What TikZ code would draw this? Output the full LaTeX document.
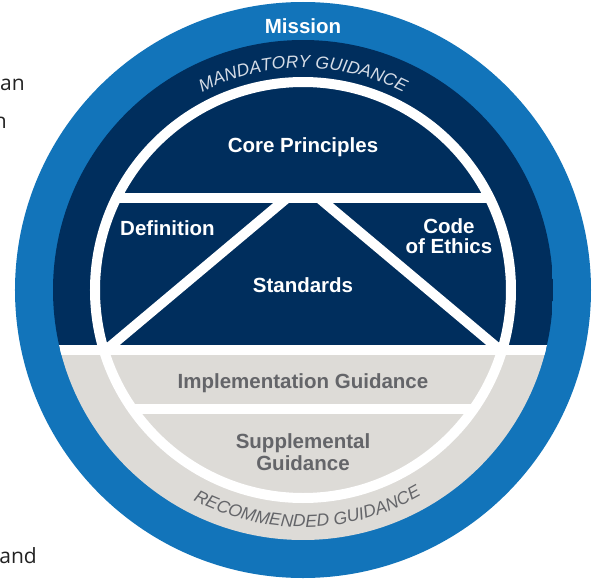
\documentclass[tikz,border=0pt]{standalone}
\usepackage{fontspec}
\setmainfont{Liberation Sans}
\newfontfamily\docfont{Open Sans}
\usetikzlibrary{decorations.text}
\definecolor{iiablue}{HTML}{1274BA}
\definecolor{iianavy}{HTML}{002E5D}
\definecolor{iiagray}{HTML}{DDDBD7}
\definecolor{iiatext}{HTML}{646569}
\definecolor{iialight}{HTML}{D5DCE6}
\definecolor{doctext}{HTML}{222222}
\begin{document}
\begin{tikzpicture}[x=1pt,y=1pt,
  lbl/.style={font=\bfseries\fontsize{20.5}{20}\selectfont, text=white, inner sep=0pt, align=center},
  glbl/.style={lbl, text=iiatext, font=\bfseries\fontsize{20.5}{22}\selectfont},
  sep/.style={white, line width=10pt},
  doc/.style={font=\docfont\fontsize{21}{21}\selectfont, text=doctext, inner sep=0pt}]
\useasboundingbox (-303,-289) rectangle (289,290);
% background document fragments
\node[doc, anchor=base east] (frag1) at (-278,200) {an};
\node[doc, anchor=base east] (frag2) at (-296,162) {n};
\node[doc, anchor=base east] (frag3) at (-266,-273) {and};
% rings
\fill[iiablue] (0,0) circle[radius=288];
\begin{scope}
  \clip (0,0) circle[radius=250];
  \fill[iianavy] (-250,-60) rectangle (250,250);
  \fill[iiagray] (-250,-60) rectangle (250,-250);
  \fill[white] (-250,-55) rectangle (250,-65);
\end{scope}
\draw[sep] (0,0) circle[radius=208];
\begin{scope}
  \clip (0,0) circle[radius=204];
  \draw[sep] (-210,92) -- (210,92);
  \draw[sep] (-16,92) -- (-197,-60);
  \draw[sep] (16,92) -- (197,-60);
  \draw[sep] (-210,-119) -- (210,-119);
\end{scope}
% labels
\node[lbl, anchor=base] (mission) at (0,257) {Mission};
\node[lbl, anchor=base] (core) at (0,138) {Core Principles};
\node[lbl, anchor=base] (def) at (-135.5,55) {Definition};
\node[lbl, anchor=base] (ethics) at (146,37) {Code\\of Ethics};
\node[lbl, anchor=base] (std) at (0,-2) {Standards};
\node[glbl, anchor=base] (impl) at (0,-98) {Implementation Guidance};
\node[glbl, anchor=base] (supp) at (0,-180) {Supplemental\\Guidance};
% curved labels
\path[decorate, decoration={text along path, text align=center, text color=iialight,
  text={|\itshape\fontsize{17.5}{17.5}\selectfont|MANDATORY GUIDANCE}}]
  (150:222) arc[start angle=150, end angle=30, radius=222];
\path[decorate, decoration={text along path, text align=center, text color=iiatext,
  text={|\itshape\fontsize{17.5}{17.5}\selectfont|RECOMMENDED GUIDANCE}}]
  (209.2:237) arc[start angle=209.2, end angle=333.2, radius=237];
\end{tikzpicture}
\end{document}
